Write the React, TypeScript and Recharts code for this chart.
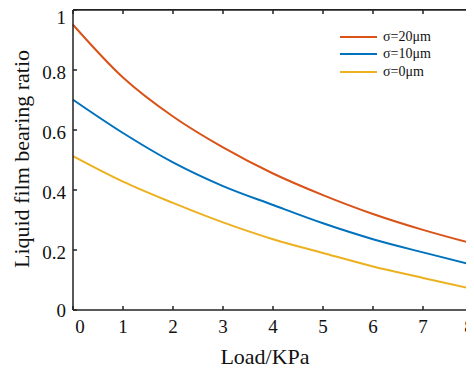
import React from 'react';
import { LineChart, Line, XAxis, YAxis } from 'recharts';

const loads = [0, 1, 2, 3, 4, 5, 6, 7, 8];
const sigma20 = [0.951, 0.775, 0.645, 0.542, 0.455, 0.383, 0.32, 0.267, 0.221];
const sigma10 = [0.701, 0.59, 0.492, 0.413, 0.35, 0.289, 0.236, 0.192, 0.15];
const sigma0 = [0.513, 0.428, 0.357, 0.292, 0.236, 0.19, 0.145, 0.107, 0.07];
const xTicks = [0, 1, 2, 3, 4, 5, 6, 7, 8];
const yTicks = [0, 0.2, 0.4, 0.6, 0.8, 1];
const seriesNames = ['σ=20μm', 'σ=10μm', 'σ=0μm'];
const seriesKeys = ['s20', 's10', 's0'];
const seriesColors = ['#D95319', '#0072BD', '#EDB120'];

const data = loads.map((x, i) => ({
  x,
  s20: sigma20[i],
  s10: sigma10[i],
  s0: sigma0[i],
}));

const FONT = "'Liberation Serif', 'Times New Roman', serif";
const AXIS = '#222';
const TICK_LEN = 4;
const X_MARGIN = 10;
const Y_MARGIN = 7;

const renderXTick = (props: any) => {
  const { x, y, payload } = props;
  const v = payload.value;
  const shift = v === 0 ? 7 : v === 8 ? -4 : 0;
  const axisY = y - X_MARGIN;
  return (
    <g>
      <path d={`M${x},${axisY}V${axisY - TICK_LEN}`} stroke={AXIS} strokeWidth={1.5} fill="none" />
      <text x={x + shift} y={y} dy="0.71em" textAnchor="middle" fontFamily={FONT} fontSize={19} fill="#111">
        {String(v)}
      </text>
    </g>
  );
};

const renderYTick = (props: any) => {
  const { x, y, payload } = props;
  const v = payload.value;
  const shift = v === 1 ? 7 : v === 0 ? 0 : 2;
  const axisX = x + Y_MARGIN;
  return (
    <g>
      <path d={`M${axisX},${y}H${axisX + TICK_LEN}`} stroke={AXIS} strokeWidth={1.5} fill="none" />
      <text x={x} y={y + shift} dy="0.355em" textAnchor="end" fontFamily={FONT} fontSize={19} fill="#111">
        {String(v)}
      </text>
    </g>
  );
};

const renderTopTick = (props: any) => {
  const { x, y } = props;
  return <path d={`M${x},${y}V${y + TICK_LEN}`} stroke={AXIS} strokeWidth={1.5} fill="none" />;
};

const renderRightTick = (props: any) => {
  const { x, y } = props;
  return <path d={`M${x},${y}H${x - TICK_LEN}`} stroke={AXIS} strokeWidth={1.5} fill="none" />;
};

export default function App() {
  return (
    <div style={{ position: 'relative', width: 466, height: 361, overflow: 'hidden' }}>
      <div style={{ position: 'absolute', left: 0, top: -18 }}>
        <LineChart width={495} height={379} data={data} margin={{ top: 0, right: 0, left: 0, bottom: 0 }}>
          <XAxis
            xAxisId="bottom"
            orientation="bottom"
            dataKey="x"
            type="number"
            domain={[0, 8]}
            ticks={xTicks}
            height={59}
            tickSize={0}
            tickMargin={X_MARGIN}
            tick={renderXTick}
            tickLine={false}
            axisLine={{ stroke: AXIS, strokeWidth: 1.5 }}
          />
          <XAxis
            xAxisId="top"
            orientation="top"
            dataKey="x"
            type="number"
            domain={[0, 8]}
            ticks={xTicks}
            height={20}
            tickSize={0}
            tickMargin={0}
            tick={renderTopTick}
            tickLine={false}
            axisLine={{ stroke: AXIS, strokeWidth: 1.5 }}
          />
          <YAxis
            yAxisId="left"
            orientation="left"
            type="number"
            domain={[0, 1]}
            ticks={yTicks}
            width={65}
            tickSize={0}
            tickMargin={Y_MARGIN}
            tick={renderYTick}
            tickLine={false}
            axisLine={{ stroke: AXIS, strokeWidth: 1.5 }}
          />
          <YAxis
            yAxisId="right"
            orientation="right"
            type="number"
            domain={[0, 1]}
            ticks={yTicks}
            width={30}
            tickSize={0}
            tickMargin={0}
            tick={renderRightTick}
            tickLine={false}
            axisLine={{ stroke: AXIS, strokeWidth: 1.5 }}
          />
          <Line xAxisId="top" yAxisId="right" type="monotone" dataKey="s20" stroke="#ffffff" strokeOpacity={0} strokeWidth={1} dot={false} isAnimationActive={false} />
          {seriesKeys.map((k, i) => (
            <Line
              key={k}
              xAxisId="bottom"
              yAxisId="left"
              type="monotone"
              dataKey={k}
              name={seriesNames[i]}
              stroke={seriesColors[i]}
              strokeWidth={2}
              dot={false}
              isAnimationActive={false}
            />
          ))}
        </LineChart>
      </div>
      <div
        style={{
          position: 'absolute',
          left: 65,
          top: 1.25,
          width: 400.75,
          height: 301,
          boxSizing: 'border-box',
          borderTop: `1.5px solid ${AXIS}`,
          borderRight: `1.5px solid ${AXIS}`,
          pointerEvents: 'none',
        }}
      />
      <div
        style={{
          position: 'absolute',
          left: 14,
          top: 151,
          transform: 'translate(-50%, -50%) rotate(-90deg)',
          whiteSpace: 'nowrap',
          fontFamily: FONT,
          fontSize: 22,
          lineHeight: '22px',
          color: '#111',
        }}
      >
        Liquid film bearing ratio
      </div>
      <div
        style={{
          position: 'absolute',
          left: 257,
          top: 349,
          transform: 'translate(-50%, -50%)',
          whiteSpace: 'nowrap',
          fontFamily: FONT,
          fontSize: 22,
          lineHeight: '22px',
          color: '#111',
        }}
      >
        Load/KPa
      </div>
      <div style={{ position: 'absolute', left: 332, top: 20, fontFamily: FONT, fontSize: 14, color: '#111' }}>
        {seriesNames.map((name, i) => (
          <div key={name} style={{ display: 'flex', alignItems: 'center', height: 17.5 }}>
            <svg width={37} height={4} style={{ marginRight: 6 }}>
              <line x1={0} y1={2} x2={37} y2={2} stroke={seriesColors[i]} strokeWidth={2} />
            </svg>
            <span>{name}</span>
          </div>
        ))}
      </div>
    </div>
  );
}
